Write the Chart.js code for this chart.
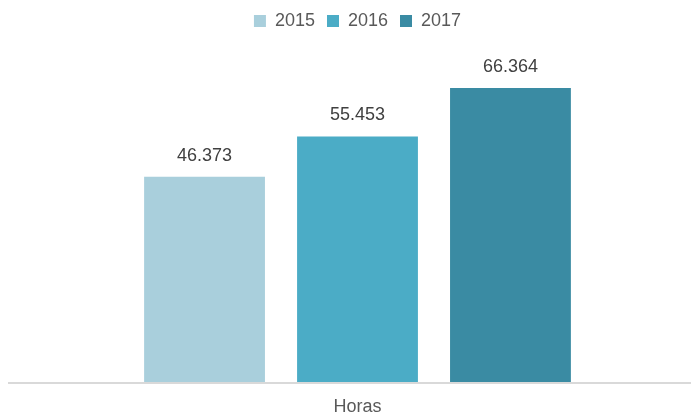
<!DOCTYPE html>
<html>
<head>
<meta charset="utf-8">
<script src="https://cdn.jsdelivr.net/npm/chart.js@4/dist/chart.umd.min.js"></script>
<style>
  html, body { margin: 0; padding: 0; background: #fff; }
  #wrap { width: 691px; height: 418px; }
</style>
</head>
<body>
<div id="wrap"><canvas id="myChart"></canvas></div>
<script>
// data
let categories = ['Horas'];
let years = ['2015', '2016', '2017'];
let hours2015 = [46373];
let hours2016 = [55453];
let hours2017 = [66364];
let yMax = 70000;

let colors = ['#A9CFDC', '#4BACC6', '#3A8BA3'];
let fontFamily = "'Liberation Sans Narrow', 'Arial Narrow', 'Liberation Sans', sans-serif";

function fmt(v) {
    return String(v).replace(/\B(?=(\d{3})+(?!\d))/g, '.');
}

// value labels above the bars + the grey baseline across the width
let valueLabels = {
    id: 'valueLabels',
    beforeInit(chart) {
        let legend = chart.legend;
        let origFit = legend.fit;
        legend.fit = function () {
            origFit.call(this);
            this.height += 32;
        };
    },
    beforeDatasetsDraw(chart) {
        let ctx = chart.ctx;
        let y = chart.chartArea.bottom + 1;
        ctx.save();
        ctx.strokeStyle = '#D9D9D9';
        ctx.lineWidth = 2;
        ctx.beginPath();
        ctx.moveTo(8, y);
        ctx.lineTo(chart.width, y);
        ctx.stroke();
        ctx.restore();
    },
    afterDatasetsDraw(chart) {
        let ctx = chart.ctx;
        ctx.save();
        ctx.font = '18px ' + fontFamily;
        ctx.fillStyle = '#404040';
        ctx.textAlign = 'center';
        ctx.textBaseline = 'bottom';
        chart.data.datasets.forEach((ds, i) => {
            chart.getDatasetMeta(i).data.forEach((bar, j) => {
                ctx.fillText(fmt(ds.data[j]), bar.x, bar.y - 12);
            });
        });
        ctx.restore();
    }
};

let seriesValues = [hours2015, hours2016, hours2017];

let ctx = document.getElementById('myChart');
let myChart = new Chart(ctx, {
    type: 'bar',
    data: {
        labels: categories,
        datasets: years.map((y, i) => ({
            label: y,
            data: seriesValues[i],
            backgroundColor: colors[i],
            borderWidth: 0
        }))
    },
    options: {
        responsive: true,
        maintainAspectRatio: false,
        animation: false,
        categoryPercentage: 0.688,
        barPercentage: 0.79,
        layout: {
            padding: { left: 24, right: 0, top: 0, bottom: 5 }
        },
        plugins: {
            legend: {
                position: 'top',
                labels: {
                    font: { family: fontFamily, size: 18 },
                    color: '#595959',
                    boxWidth: 12,
                    boxHeight: 12,
                    padding: 12
                }
            },
            tooltip: { enabled: false }
        },
        scales: {
            x: {
                grid: { display: false, drawTicks: false },
                border: { display: false },
                ticks: {
                    font: { family: fontFamily, size: 18 },
                    color: '#595959',
                    padding: 14
                },
                afterFit(scale) {
                    scale.height = 31;
                }
            },
            y: {
                display: false,
                min: 0,
                max: yMax
            }
        }
    },
    plugins: [valueLabels]
});
</script>
</body>
</html>
